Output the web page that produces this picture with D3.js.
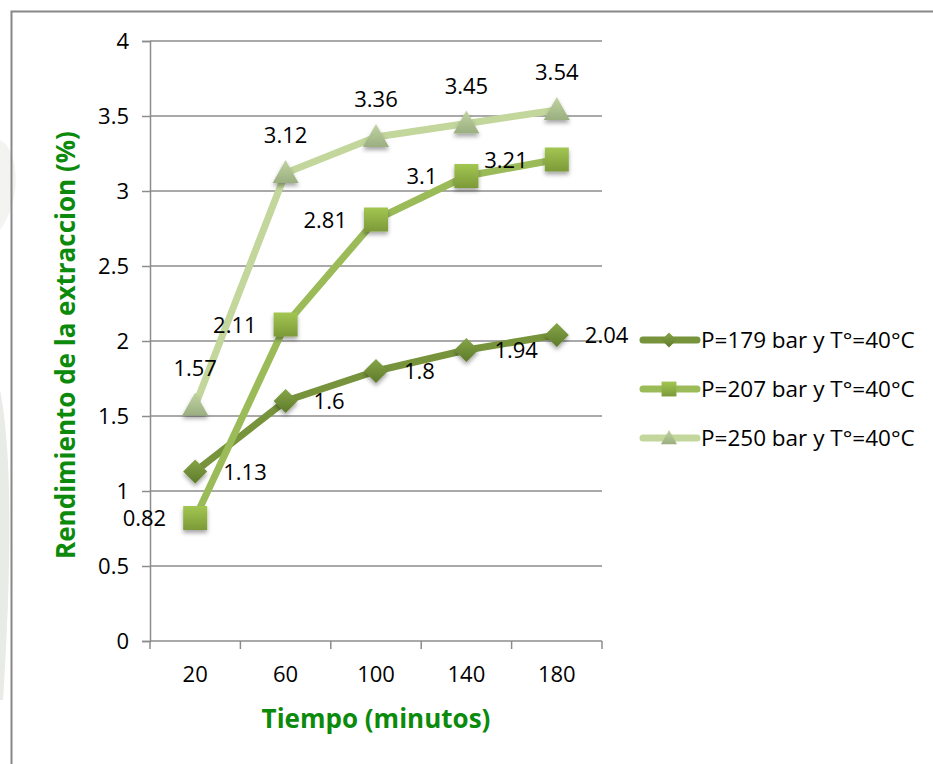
<!DOCTYPE html>
<html>
<head>
<meta charset="utf-8">
<script src="https://cdn.jsdelivr.net/npm/d3@7"></script>
<style>
  html, body { margin: 0; padding: 0; background: #fff; }
  svg { display: block; font-family: "Open Sans", Lato, sans-serif; }
</style>
</head>
<body>
<svg id="chart" width="933" height="764"></svg>
<script>
// Extraction yield (%) vs. time (minutes) at three pressures, T = 40 °C
const times = ["20", "60", "100", "140", "180"];
const yield179 = [1.13, 1.6, 1.8, 1.94, 2.04];
const yield207 = [0.82, 2.11, 2.81, 3.1, 3.21];
const yield250 = [1.57, 3.12, 3.36, 3.45, 3.54];
const seriesNames = ["P=179 bar y T°=40°C", "P=207 bar y T°=40°C", "P=250 bar y T°=40°C"];
const yTicks = [0, 0.5, 1, 1.5, 2, 2.5, 3, 3.5, 4];

const series = [
  { name: seriesNames[0], values: yield179, line: "#77933c", top: "#86a548", bot: "#5e7a2a", shape: "diamond", label: "right" },
  { name: seriesNames[1], values: yield207, line: "#9bbb59", top: "#a2c652", bot: "#7c9a38", shape: "square", label: "left" },
  { name: seriesNames[2], values: yield250, line: "#c3d69b", top: "#c0d3a0", bot: "#9bae80", shape: "triangle", label: "above" }
];

const FONT = 22;
const svg = d3.select("#chart");
const plot = { left: 150, right: 602, top: 41, bottom: 641 };

const x = d3.scaleBand().domain(times).range([plot.left, plot.right]).padding(0);
const y = d3.scaleLinear().domain([0, 4]).range([plot.bottom, plot.top]);

const defs = svg.append("defs");
series.forEach((s, i) => {
  const g = defs.append("linearGradient").attr("id", "grad" + i)
    .attr("x1", 0).attr("y1", 0).attr("x2", 0).attr("y2", 1);
  g.append("stop").attr("offset", "0%").attr("stop-color", s.top);
  g.append("stop").attr("offset", "100%").attr("stop-color", s.bot);
});
const shadow = defs.append("filter").attr("id", "shadow")
  .attr("x", "-50%").attr("y", "-50%").attr("width", "200%").attr("height", "200%");
shadow.append("feDropShadow").attr("dx", 0).attr("dy", 3).attr("stdDeviation", 2.2)
  .attr("flood-color", "#000").attr("flood-opacity", 0.35);

// faint background decoration at the left edge
const deco = svg.append("g").attr("fill", "#e9ebe7");
deco.append("path").attr("d", "M0,390 C12,450 12,560 3,700 L0,700 Z");
deco.append("path").attr("d", "M0,140 C20,150 22,200 0,230 Z").attr("fill", "#f3f4f2");

// outer chart frame
svg.append("rect").attr("x", 11.5).attr("y", 11.5).attr("width", 940).attr("height", 780)
  .attr("fill", "none").attr("stroke", "#888").attr("stroke-width", 2);

// gridlines
svg.append("g").selectAll("line").data(yTicks.filter(t => t > 0)).join("line")
  .attr("x1", plot.left).attr("x2", plot.right)
  .attr("y1", d => y(d)).attr("y2", d => y(d))
  .attr("stroke", "#8c8c8c").attr("stroke-width", 1.5);

// y axis
const yAxis = svg.append("g").attr("transform", `translate(${plot.left},0)`)
  .call(d3.axisLeft(y).tickValues(yTicks).tickSize(8).tickPadding(13).tickFormat(d3.format("")));
yAxis.select(".domain").attr("stroke", "#8c8c8c").attr("stroke-width", 1.5);
yAxis.selectAll(".tick line").attr("stroke", "#8c8c8c").attr("stroke-width", 1.5);
yAxis.selectAll("text").attr("font-size", FONT).attr("fill", "#000").attr("font-family", "'Open Sans', sans-serif");

// x axis with ticks at the category boundaries
const xAxis = svg.append("g").attr("transform", `translate(0,${plot.bottom})`)
  .call(d3.axisBottom(x).tickSize(0).tickPadding(25));
xAxis.select(".domain").remove();
xAxis.selectAll("text").attr("font-size", FONT).attr("fill", "#000").attr("font-family", "'Open Sans', sans-serif");
svg.append("line").attr("x1", plot.left).attr("x2", plot.right)
  .attr("y1", plot.bottom).attr("y2", plot.bottom).attr("stroke", "#8c8c8c").attr("stroke-width", 1.5);
const bounds = times.map(t => x(t)).concat([plot.right]);
svg.append("g").selectAll("line").data(bounds).join("line")
  .attr("x1", d => d).attr("x2", d => d).attr("y1", plot.bottom).attr("y2", plot.bottom + 8)
  .attr("stroke", "#8c8c8c").attr("stroke-width", 1.5);

const cx = t => x(t) + x.bandwidth() / 2;

function marker(sel, shape, fill) {
  if (shape === "diamond") {
    sel.append("path").attr("d", "M0,-12 L12,0 L0,12 L-12,0 Z").attr("fill", fill);
  } else if (shape === "square") {
    sel.append("rect").attr("x", -12).attr("y", -12).attr("width", 24).attr("height", 24).attr("fill", fill);
  } else {
    sel.append("path").attr("d", "M0,-13 L13,10 L-13,10 Z").attr("fill", fill);
  }
}

const line = d3.line().x((d, i) => cx(times[i])).y(d => y(d));

// lines and markers
series.forEach((s, si) => {
  const g = svg.append("g");
  g.append("path").datum(s.values).attr("d", line)
    .attr("fill", "none").attr("stroke", s.line).attr("stroke-width", 7)
    .attr("stroke-linejoin", "round").attr("stroke-linecap", "round");
  s.values.forEach((v, i) => {
    const m = g.append("g").attr("transform", `translate(${cx(times[i])},${y(v)})`)
      .attr("filter", "url(#shadow)");
    marker(m, s.shape, `url(#grad${si})`);
  });
});

// data labels
series.forEach(s => {
  svg.append("g").selectAll("text").data(s.values).join("text")
    .attr("font-size", FONT).attr("fill", "#000")
    .attr("x", (d, i) => {
      const px = cx(times[i]);
      return s.label === "right" ? px + 28 : s.label === "left" ? px - 29 : px;
    })
    .attr("y", d => s.label === "above" ? y(d) - 30 : y(d) + 8)
    .attr("text-anchor", s.label === "right" ? "start" : s.label === "left" ? "end" : "middle")
    .text(d => d);
});

// axis titles
svg.append("text").attr("transform", "translate(75,345) rotate(-90)")
  .attr("text-anchor", "middle").attr("font-size", 26).attr("font-weight", "bold")
  .attr("fill", "#0b8a0b").text("Rendimiento de la extraccion (%)");
svg.append("text").attr("x", 376).attr("y", 728)
  .attr("text-anchor", "middle").attr("font-size", 26).attr("font-weight", "bold")
  .attr("fill", "#0b8a0b").text("Tiempo (minutos)");

// legend
const legend = svg.append("g").selectAll("g").data(series).join("g")
  .attr("transform", (d, i) => `translate(640,${340 + i * 49})`);
legend.append("line").attr("x1", 3).attr("x2", 57).attr("y1", 0).attr("y2", 0)
  .attr("stroke", d => d.line).attr("stroke-width", 7).attr("stroke-linecap", "round");
legend.each(function (d, i) {
  const m = d3.select(this).append("g").attr("transform", "translate(29,0) scale(0.62)");
  marker(m, d.shape, `url(#grad${i})`);
});
legend.append("text").attr("x", 61).attr("y", 8).attr("font-size", 22.5).attr("fill", "#000")
  .text(d => d.name);
</script>
</body>
</html>
